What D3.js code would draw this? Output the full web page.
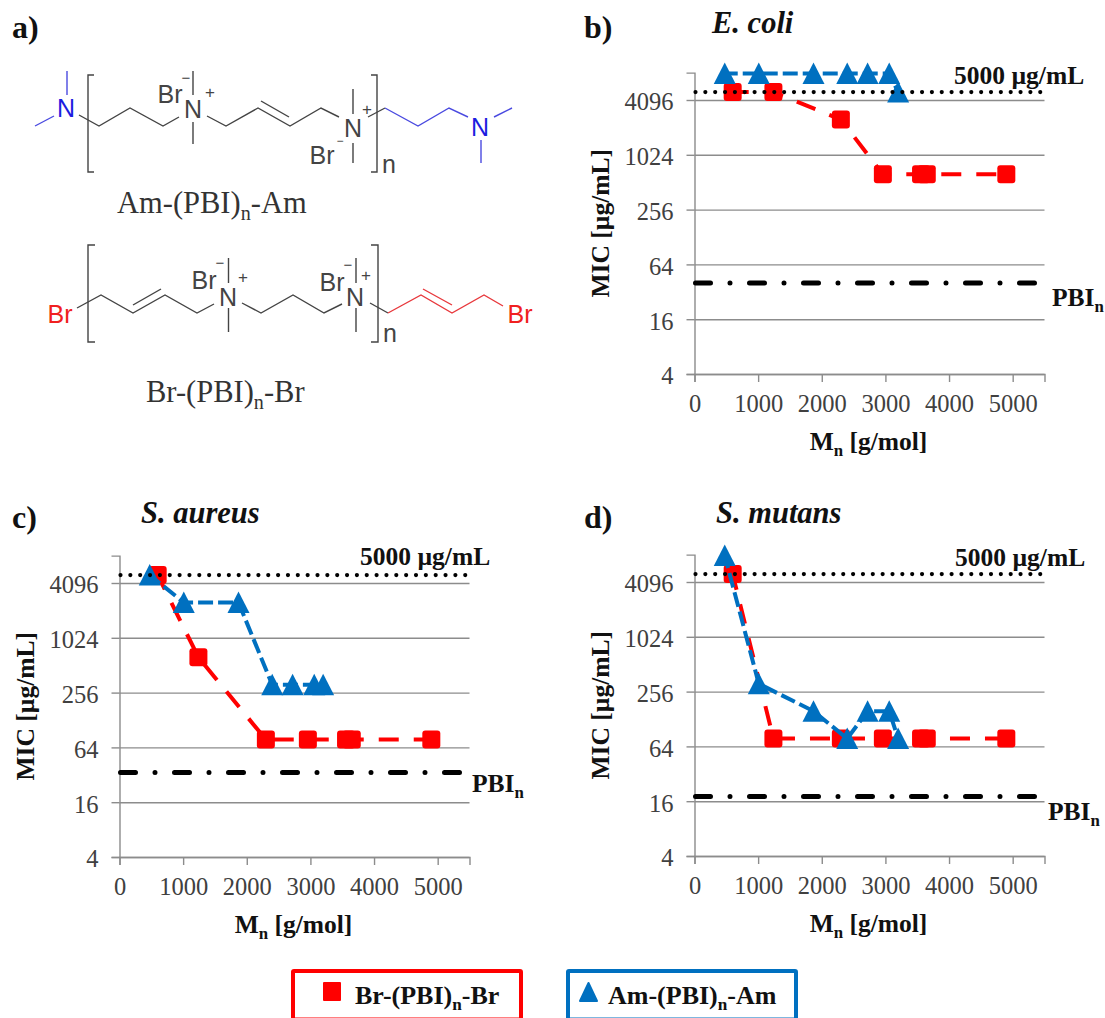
<!DOCTYPE html>
<html>
<head>
<meta charset="utf-8">
<script src="https://cdn.jsdelivr.net/npm/d3@7"></script>
<style>
  html, body { margin: 0; padding: 0; background: #fff; }
  svg { display: block; font-family: "Liberation Serif", serif; }
</style>
</head>
<body>
<div id="graph"></div>
<script>
// Data
const brMn = [600, 1240, 2300, 2960, 3560, 3650, 4900];
const amMn = [475, 1010, 1870, 2400, 2720, 3060, 3200];

const brEcoli = [5000, 5000, 2500, 625, 625, 625, 625];
const amEcoli = [8000, 8000, 8000, 8000, 8000, 8000, 5000];
const brAureus = [5000, 625, 78, 78, 78, 78, 78];
const amAureus = [5000, 2500, 2500, 312, 312, 312, 312];
const brMutans = [5000, 78, 78, 78, 78, 78, 78];
const amMutans = [8000, 312, 156, 78, 156, 156, 78];

const limitMic = 5000;
const pbiEcoli = 40;
const pbiAureus = 34;
const pbiMutans = 18;

const yTicks = [4, 16, 64, 256, 1024, 4096];
const xTicks = [0, 1000, 2000, 3000, 4000, 5000];

const red = '#FF0000';
const blue = '#0070C0';
const axisColor = '#8c8c8c';
const textColor = '#404040';

const width = 1105;
const height = 1018;
const plotW = 350;
const plotH = 301.4;

const panels = [
  { letter: 'b)', title: 'E. coli', br: brEcoli, am: amEcoli, pbi: pbiEcoli,
    left: 694.5, top: 72.6, letterX: 584, letterY: 38, titleX: 712, titleY: 33,
    limitX: 954, limitY: 84, pbiX: 1052, pbiY: 306 },
  { letter: 'c)', title: 'S. aureus', br: brAureus, am: amAureus, pbi: pbiAureus,
    left: 119.5, top: 555.6, letterX: 12, letterY: 528, titleX: 141, titleY: 523,
    limitX: 360, limitY: 565, pbiX: 472, pbiY: 792 },
  { letter: 'd)', title: 'S. mutans', br: brMutans, am: amMutans, pbi: pbiMutans,
    left: 694.5, top: 554.6, letterX: 584, letterY: 528, titleX: 716, titleY: 523,
    limitX: 955, limitY: 565.5, pbiX: 1048, pbiY: 820 },
];

const svg = d3.select('#graph').append('svg')
  .attr('width', width)
  .attr('height', height);

// text with a subscript part, e.g. ['M', 'n', ' [g/mol]']
const addText = (parent, parts, x, y, size, opts = {}) => {
  const t = parent.append('text')
    .attr('x', x)
    .attr('y', y)
    .attr('font-size', size)
    .attr('font-weight', opts.weight || 'normal')
    .attr('font-style', opts.style || 'normal')
    .attr('font-family', opts.family || null)
    .attr('text-anchor', opts.anchor || 'start')
    .attr('fill', opts.fill || '#111');
  if (opts.rotate) t.attr('transform', `rotate(${opts.rotate} ${x} ${y})`);
  parts.forEach((p, i) => {
    const sub = i % 2 === 1;
    const s = t.append('tspan').text(p);
    if (sub) {
      s.attr('font-size', size * 0.66).attr('dy', size * 0.22);
    } else if (i > 0) {
      s.attr('dy', -size * 0.22);
    }
  });
  return t;
};

function drawPanel(p) {
  const g = svg.append('g').attr('transform', `translate(${p.left},${p.top})`);

  const x = d3.scaleLinear().domain([0, 5500]).range([0, plotW]);
  const y = d3.scaleLog().base(2).domain([4, 8192]).range([plotH, 0]);

  // gridlines
  g.append('g')
    .call(d3.axisLeft(y).tickValues(yTicks).tickSize(-plotW).tickFormat(''))
    .call(s => s.select('.domain').remove())
    .selectAll('line').attr('stroke', axisColor).attr('stroke-width', 1.4);

  const yAxis = g.append('g')
    .call(d3.axisLeft(y).tickValues(yTicks).tickSize(8).tickPadding(13).tickFormat(d3.format('d')));
  const xAxis = g.append('g')
    .attr('transform', `translate(0,${plotH})`)
    .call(d3.axisBottom(x).tickValues(xTicks).tickSize(8).tickPadding(13).tickFormat(d3.format('d')));

  [yAxis, xAxis].forEach(a => {
    a.select('.domain').attr('stroke', axisColor).attr('stroke-width', 1.4);
    a.selectAll('line').attr('stroke', axisColor).attr('stroke-width', 1.4);
    a.selectAll('text')
      .attr('font-family', '"Liberation Serif", serif')
      .attr('font-size', 24.5)
      .attr('fill', textColor);
  });
  yAxis.selectAll('text').attr('dy', '0.4em');

  const line = d3.line().x(d => x(d[0])).y(d => y(d[1]));
  const brPts = d3.zip(brMn, p.br);
  const amPts = d3.zip(amMn, p.am);

  // Br-(PBI)n-Br
  g.append('path')
    .attr('d', line(brPts))
    .attr('fill', 'none')
    .attr('stroke', red)
    .attr('stroke-width', 4)
    .attr('stroke-dasharray', '20 15')
    .attr('stroke-dashoffset', 4);
  g.selectAll('.br').data(brPts).enter().append('rect')
    .attr('class', 'br')
    .attr('x', d => x(d[0]) - 9)
    .attr('y', d => y(d[1]) - 9)
    .attr('width', 18)
    .attr('height', 18)
    .attr('rx', 3)
    .attr('fill', red);

  // Am-(PBI)n-Am
  g.append('path')
    .attr('d', line(amPts))
    .attr('fill', 'none')
    .attr('stroke', blue)
    .attr('stroke-width', 4)
    .attr('stroke-dasharray', '15 5')
    .attr('stroke-dashoffset', 2);
  g.selectAll('.am').data(amPts).enter().append('path')
    .attr('class', 'am')
    .attr('d', 'M0,-11 L11,10.5 L-11,10.5 Z')
    .attr('transform', d => `translate(${x(d[0])},${y(d[1])})`)
    .attr('fill', blue);

  // reference lines
  g.append('line')
    .attr('x1', 1).attr('x2', plotW)
    .attr('y1', y(limitMic)).attr('y2', y(limitMic))
    .attr('stroke', '#000')
    .attr('stroke-width', 4.2)
    .attr('stroke-linecap', 'round')
    .attr('stroke-dasharray', '0 9.85');
  g.append('line')
    .attr('x1', 1).attr('x2', plotW)
    .attr('y1', y(p.pbi)).attr('y2', y(p.pbi))
    .attr('stroke', '#000')
    .attr('stroke-width', 5)
    .attr('stroke-linecap', 'round')
    .attr('stroke-dasharray', '15 19.5 0 19.5');

  addText(svg, [p.letter], p.letterX, p.letterY, 32, { weight: 'bold' });
  addText(svg, [p.title], p.titleX, p.titleY, 30.5, { weight: 'bold', style: 'italic' });
  addText(svg, ['5000 µg/mL'], p.limitX, p.limitY, 25.5, { weight: 'bold' });
  addText(svg, ['PBI', 'n'], p.pbiX, p.pbiY, 25.5, { weight: 'bold' });
  addText(svg, ['M', 'n', ' [g/mol]'], p.left + plotW / 2 - 1, p.top + plotH + 76, 25.5,
    { weight: 'bold', anchor: 'middle' });
  addText(svg, ['MIC [µg/mL]'], p.left - 85, p.top + plotH / 2, 25.5,
    { weight: 'bold', anchor: 'middle', rotate: -90 });
}

panels.forEach(drawPanel);

// a) structures
const sans = '"Liberation Sans", sans-serif';
const grey = '#444';
const bondBlue = '#4a4ae0';
const bondRed = '#e8383c';
const st = svg.append('g');
const bond = (pts, color) => st.append('path')
  .attr('d', d3.line()(pts))
  .attr('fill', 'none')
  .attr('stroke', color)
  .attr('stroke-width', 1.4);
const atom = (label, px, py, color, size = 25) =>
  addText(st, [label], px, py, size, { family: sans, fill: color, anchor: 'middle' });

addText(svg, ['a)'], 12, 38, 32, { weight: 'bold' });

// Am-(PBI)n-Am
bond([[67, 71], [67, 95]], bondBlue);
bond([[35, 126], [54, 116]], bondBlue);
atom('N', 66, 117, '#1c1ce0');
bond([[79, 115], [99, 126], [130, 108], [163, 126], [179, 117]], grey);
atom('N', 193, 118, grey);
atom('Br', 170, 103, grey);
atom('−', 186, 83, grey, 15);
atom('+', 210, 98, grey, 17);
bond([[193, 71], [193, 95]], grey);
bond([[193, 122], [193, 144]], grey);
bond([[207, 116], [226, 126], [258, 108], [290, 126], [321, 108], [339, 117]], grey);
bond([[261, 101], [289, 117]], grey);
atom('N', 353, 137, grey);
atom('Br', 322, 164, grey);
atom('−', 340, 145, grey, 12);
atom('+', 367, 115, grey, 17);
bond([[353, 89], [353, 114]], grey);
bond([[353, 143], [353, 163]], grey);
bond([[368, 117], [385, 108]], grey);
bond([[385, 108], [418, 126], [449, 108], [468, 117]], bondBlue);
atom('N', 480, 136, '#1c1ce0');
bond([[494, 117], [512, 108]], bondBlue);
bond([[481, 140], [481, 163]], bondBlue);
bond([[94, 75], [88, 75], [88, 172], [94, 172]], grey);
bond([[371, 75], [377, 75], [377, 172], [371, 172]], grey);
atom('n', 389, 173, grey);
addText(svg, ['Am-(PBI)', 'n', '-Am'], 117, 213, 30.5, { fill: '#333' });

// Br-(PBI)n-Br
atom('Br', 60, 323, '#f02020');
bond([[77, 308], [101, 295], [133, 313], [165, 295], [197, 313], [214, 304]], grey);
bond([[133, 305], [161, 289]], grey);
atom('N', 228, 306, grey);
atom('Br', 204, 289, grey);
atom('−', 220, 268, grey, 15);
atom('+', 243, 283, grey, 17);
bond([[228.5, 258], [228.5, 283]], grey);
bond([[228.5, 308], [228.5, 332]], grey);
bond([[242, 303], [261, 313], [293, 295], [324, 313], [342, 304]], grey);
atom('N', 355, 306, grey);
atom('Br', 332, 291, grey);
atom('−', 348, 270, grey, 15);
atom('+', 366, 281, grey, 17);
bond([[356, 258], [356, 283]], grey);
bond([[356, 308], [356, 332]], grey);
bond([[370, 303], [388, 313]], grey);
bond([[388, 313], [421, 295], [452, 313], [484, 295], [503, 306]], bondRed);
bond([[423, 289], [452, 305]], bondRed);
atom('Br', 520, 323, '#f02020');
bond([[95, 245], [88, 245], [88, 342], [95, 342]], grey);
bond([[371, 245], [378, 245], [378, 342], [371, 342]], grey);
atom('n', 390, 342, grey);
addText(svg, ['Br-(PBI)', 'n', '-Br'], 146, 402, 30.5, { fill: '#333' });

// legend
const legend = svg.append('g');
legend.append('rect')
  .attr('x', 293).attr('y', 971).attr('width', 228).attr('height', 48.5)
  .attr('rx', 1).attr('fill', 'none').attr('stroke', red).attr('stroke-width', 4);
legend.append('rect')
  .attr('x', 568).attr('y', 971).attr('width', 228).attr('height', 48.5)
  .attr('rx', 1).attr('fill', 'none').attr('stroke', blue).attr('stroke-width', 4);
legend.append('rect')
  .attr('x', 323).attr('y', 982).attr('width', 18).attr('height', 19)
  .attr('rx', 1).attr('fill', red);
legend.append('path')
  .attr('d', 'M588.5,983 L597,1001 L580,1001 Z')
  .attr('fill', blue).attr('stroke', blue).attr('stroke-width', 2).attr('stroke-linejoin', 'round');
addText(legend, ['Br-(PBI)', 'n', '-Br'], 355, 1004, 26, { weight: 'bold' });
addText(legend, ['Am-(PBI)', 'n', '-Am'], 608, 1004, 26, { weight: 'bold' });
</script>
</body>
</html>
